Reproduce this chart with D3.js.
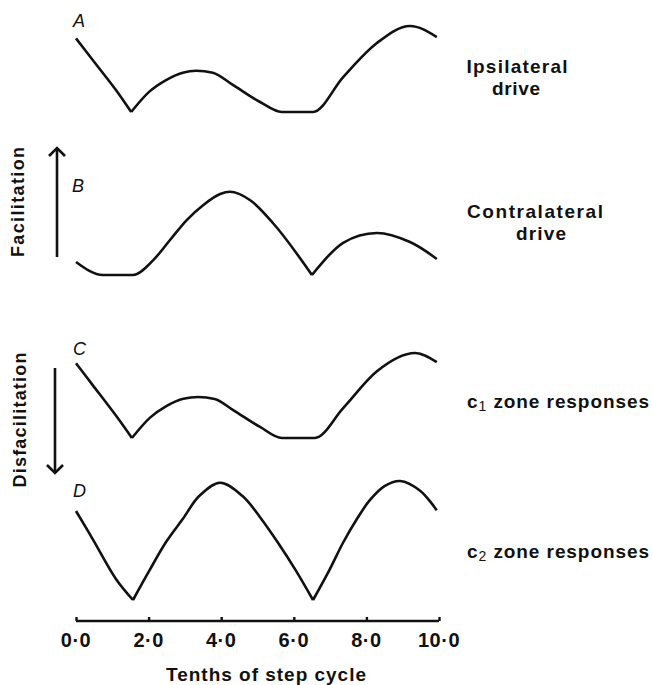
<!DOCTYPE html>
<html><head><meta charset="utf-8">
<script src="https://cdn.jsdelivr.net/npm/d3@7"></script>
<style>
html,body{margin:0;padding:0;background:#fff;}
svg{display:block;}
text{font-family:"Liberation Sans",Arial,sans-serif;fill:#111;}
</style></head>
<body>
<svg id="chart" width="653" height="685"></svg>
<script>
// ---- data (x in tenths of step cycle, y in arbitrary drive units) ----
const panelLetters = ["A","B","C","D"];
const panelLabels = [["Ipsilateral","drive"],["Contralateral","drive"],["c|1| zone responses"],["c|2| zone responses"]];

const ipsiX   = [0, 0.46, 1.10, 1.52, 2.02, 2.48, 2.94, 3.31, 3.77, 4.3, 5.07, 5.67, 6.53, 7.36, 8.29, 9.2, 9.94];
const ipsiY   = [6.4, 4.52, 1.91, 0, 1.77, 2.78, 3.42, 3.59, 3.42, 2.4, 0.87, 0, 0, 3.04, 6.0, 7.48, 6.52];
const ipsiCusps = [1.52];

const contraX = [0, 0.74, 1.57, 2.13, 2.59, 3.05, 3.51, 3.97, 4.24, 4.8, 5.43, 6.5, 7.36, 8.29, 9.2, 9.94];
const contraY = [1.13, 0, 0, 1.30, 3.04, 4.78, 6.09, 7.04, 7.24, 6.5, 4.5, 0, 2.8, 3.65, 2.87, 1.39];
const contraCusps = [6.5];

const c1X = [0, 0.46, 1.10, 1.54, 2.04, 2.5, 2.96, 3.36, 3.82, 4.33, 5.07, 5.67, 6.58, 7.36, 8.29, 9.34, 9.94];
const c1Y = [6.5, 4.6, 1.95, 0, 1.77, 2.8, 3.42, 3.57, 3.4, 2.43, 0.96, 0, 0, 2.6, 5.8, 7.39, 6.6];
const c1Cusps = [1.54];

const c2X = [0, 0.46, 1.10, 1.57, 2.02, 2.48, 2.94, 3.40, 3.97, 4.58, 5.07, 5.56, 6.05, 6.53, 6.98, 7.36, 7.73, 8.1, 8.5, 8.93, 9.48, 9.94];
const c2Y = [7.74, 5.3, 1.83, 0, 2.55, 5.04, 7.04, 9.06, 10.2, 9.06, 7.2, 5.0, 2.6, 0, 2.6, 5.0, 7.0, 8.7, 9.9, 10.35, 9.5, 7.8];
const c2Cusps = [1.57, 6.53];

const xTicks = [0, 2, 4, 6, 8, 10];
const xTickLabels = ["0·0","2·0","4·0","6·0","8·0","10·0"];
const xTitle = "Tenths of step cycle";
const arrowLabels = ["Facilitation","Disfacilitation"];

// ---- layout ----
const svg = d3.select("#chart");
const x = d3.scaleLinear().domain([0,10]).range([76,439]);
const panelBottoms = [112, 275, 438, 600];
const panelData = [[ipsiX,ipsiY,ipsiCusps],[contraX,contraY,contraCusps],[c1X,c1Y,c1Cusps],[c2X,c2Y,c2Cusps]];

panelData.forEach(([xs,ys,cusps],i)=>{
  const y = d3.scaleLinear().domain([0,10]).range([panelBottoms[i], panelBottoms[i]-115]);
  const pts = xs.map((v,k)=>[v,ys[k]]);
  const segs = [];
  let cur = [];
  pts.forEach(p=>{
    cur.push(p);
    if (cusps.includes(p[0])) { segs.push(cur); cur=[p]; }
  });
  if (cur.length>1) segs.push(cur);
  const path = segs.map(s=>{
    const hasFlat = s.some((p,k)=>k>0 && p[1]===s[k-1][1]);
    const line = d3.line().x(d=>x(d[0])).y(d=>y(d[1]))
      .curve(hasFlat ? d3.curveMonotoneX : d3.curveCatmullRom.alpha(0.5));
    return line(s);
  }).join("");
  svg.append("path").attr("d",path).attr("fill","none")
    .attr("stroke","#111").attr("stroke-width",2.6)
    .attr("stroke-linejoin","miter").attr("stroke-linecap","butt");
});

// panel letters
const letterPos = [[73,27],[72,192],[73,355],[73,497]];
panelLetters.forEach((l,i)=>{
  svg.append("text").attr("x",letterPos[i][0]).attr("y",letterPos[i][1])
    .attr("font-size",18).attr("font-style","italic").attr("text-anchor","start").text(l);
});

// right labels
const lab = (xx,yy,anchor,len)=>svg.append("text").attr("x",xx).attr("y",yy).attr("text-anchor",anchor)
  .attr("font-size",19).attr("font-weight","bold").attr("textLength",len).attr("lengthAdjust","spacing");
lab(517,73,"middle",101).text(panelLabels[0][0]);
lab(516,95,"middle",48).text(panelLabels[0][1]);
lab(535,218,"middle",136).text(panelLabels[1][0]);
lab(541,240,"middle",50).text(panelLabels[1][1]);
[[2,408],[3,558]].forEach(([i,yy])=>{
  const parts = panelLabels[i][0].split("|");
  const t = lab(467,yy,"start",182);
  t.append("tspan").text(parts[0]);
  t.append("tspan").attr("font-size",14).attr("font-weight","normal").attr("dy",3).text(parts[1]);
  t.append("tspan").attr("dy",-3).text(parts[2]);
});

// axis
const axisY = 621;
const axis = d3.axisTop(x).tickValues(xTicks).tickSize(4).tickFormat(()=> "");
const ag = svg.append("g").attr("transform",`translate(0,${axisY})`).call(axis);
ag.select(".domain").attr("stroke","#111").attr("stroke-width",2.6).attr("d",`M${x(0)},0H${x(10)}`);
ag.selectAll(".tick line").attr("stroke","#111").attr("stroke-width",2.4);
xTicks.forEach((v,i)=>{
  svg.append("text").attr("x",x(v)).attr("y",647).attr("text-anchor","middle")
    .attr("font-size",20).attr("font-weight","bold").attr("letter-spacing",0.5).text(xTickLabels[i]);
});
svg.append("text").attr("x",266).attr("y",681).attr("text-anchor","middle")
  .attr("font-size",19).attr("font-weight","bold").attr("textLength",200).attr("lengthAdjust","spacing").text(xTitle);

// arrows
function arrow(xp, y1, y2){
  svg.append("line").attr("x1",xp).attr("x2",xp).attr("y1",y1).attr("y2",y2)
    .attr("stroke","#111").attr("stroke-width",2.6);
  const dir = y2<y1 ? 1 : -1;
  svg.append("path").attr("d",`M${xp-8},${y2+dir*8}L${xp},${y2}L${xp+8},${y2+dir*8}`)
    .attr("fill","none").attr("stroke","#111").attr("stroke-width",2.6);
}
arrow(57, 257, 148);
arrow(55, 368, 473);
svg.append("text").attr("transform","translate(24,202) rotate(-90)").attr("text-anchor","middle")
  .attr("font-size",18).attr("font-weight","bold").attr("textLength",110).attr("lengthAdjust","spacing").text(arrowLabels[0]);
svg.append("text").attr("transform","translate(26,420) rotate(-90)").attr("text-anchor","middle")
  .attr("font-size",18).attr("font-weight","bold").attr("textLength",135).attr("lengthAdjust","spacing").text(arrowLabels[1]);
</script>
</body></html>
